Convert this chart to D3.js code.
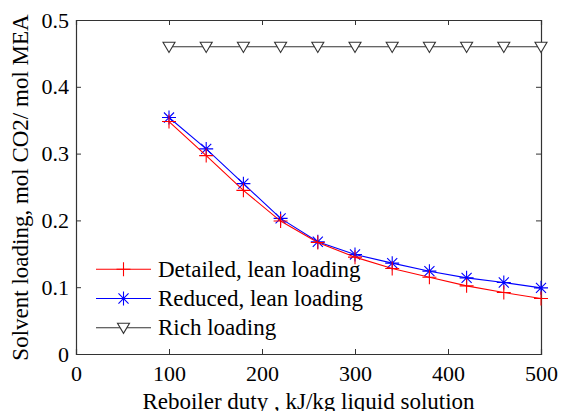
<!DOCTYPE html>
<html><head><meta charset="utf-8">
<script src="https://cdn.jsdelivr.net/npm/d3@7"></script>
<style>body{margin:0;background:#fff}text{font-family:"Liberation Serif","Times New Roman",serif}</style>
</head><body><svg id="c" width="561" height="411"></svg>
<script>
const duty = [100,140,180,220,260,300,340,380,420,460,500];
const detailed = [0.348,0.297,0.245,0.199,0.167,0.145,0.128,0.115,0.102,0.092,0.083];
const reduced = [0.354,0.307,0.255,0.203,0.168,0.149,0.136,0.124,0.114,0.107,0.099];
const rich = [0.46,0.46,0.46,0.46,0.46,0.46,0.46,0.46,0.46,0.46,0.46];
const xTicks = [0,100,200,300,400,500];
const yTicks = [0,0.1,0.2,0.3,0.4,0.5];
const seriesNames = ["Detailed, lean loading","Reduced, lean loading","Rich loading"];

const svg = d3.select("#c");
const L=76,R=541,T=20,B=354;
const x = d3.scaleLinear().domain([0,500]).range([L,R]);
const y = d3.scaleLinear().domain([0,0.5]).range([B,T]);
const axc="#333";
const g = svg.append("g");
const xa = g.append("g").attr("transform",`translate(0,${B})`).call(d3.axisBottom(x).tickValues(xTicks).tickSize(-5).tickPadding(11).tickFormat(d3.format("d")));
const xt = g.append("g").attr("transform",`translate(0,${T})`).call(d3.axisTop(x).tickValues(xTicks).tickSize(-5).tickFormat(""));
const ya = g.append("g").attr("transform",`translate(${L},0)`).call(d3.axisLeft(y).tickValues(yTicks).tickSize(-5).tickPadding(7).tickFormat(d=>d===0?"0":d3.format(".1f")(d)));
const yr = g.append("g").attr("transform",`translate(${R},0)`).call(d3.axisRight(y).tickValues(yTicks).tickSize(-5).tickFormat(""));
[xa,xt,ya,yr].forEach(a=>{a.select(".domain").attr("stroke",axc).attr("stroke-width",1.2);a.selectAll(".tick line").attr("stroke",axc);a.selectAll("text").attr("font-size",22).attr("fill","#000").attr("font-family","Liberation Serif");});
svg.append("text").attr("x",(L+R)/2).attr("y",409).attr("text-anchor","middle").attr("font-size",23).text("Reboiler duty , kJ/kg liquid solution");
svg.append("text").attr("transform",`translate(27.5,187.5) rotate(-90)`).attr("text-anchor","middle").attr("font-size",23).text("Solvent loading, mol CO2/ mol MEA");

const line = d3.line().x((d,i)=>x(duty[i])).y(d=>y(d));
function plus(sel,s){sel.append("path").attr("d",`M${-s},0H${s}M0,${-s}V${s}`);}
function star(sel,s){const a=s*0.72;sel.append("path").attr("d",`M${-s},0H${s}M0,${-s}V${s}M${-a},${-a}L${a},${a}M${-a},${a}L${a},${-a}`);}
function tri(sel,s){sel.append("path").attr("d",`M${-s},${-s*0.75}H${s}L0,${s*0.95}Z`).attr("fill","#fff");}
const series=[
 {vals:detailed,color:"#ff0000",m:plus,ms:7},
 {vals:reduced,color:"#0000ff",m:star,ms:7},
 {vals:rich,color:"#333",m:tri,ms:6}];
series.slice().reverse().forEach(s=>{
  svg.append("path").attr("d",line(s.vals)).attr("fill","none").attr("stroke",s.color).attr("stroke-width",1.1);
  s.vals.forEach((v,i)=>{const gg=svg.append("g").attr("transform",`translate(${x(duty[i])},${y(v)})`).attr("stroke",s.color).attr("stroke-width",1.1).attr("fill","none");s.m(gg,s.ms);});
});
series.forEach((s,i)=>{
  const yy=269.3+i*29.2;
  svg.append("line").attr("x1",96).attr("x2",151).attr("y1",yy).attr("y2",yy).attr("stroke",s.color).attr("stroke-width",1.1);
  const gg=svg.append("g").attr("transform",`translate(123.5,${yy})`).attr("stroke",s.color).attr("stroke-width",1.1).attr("fill","none");s.m(gg,s.ms);
  svg.append("text").attr("x",158).attr("y",yy+7.5).attr("font-size",23).text(seriesNames[i]);
});
</script></body></html>
